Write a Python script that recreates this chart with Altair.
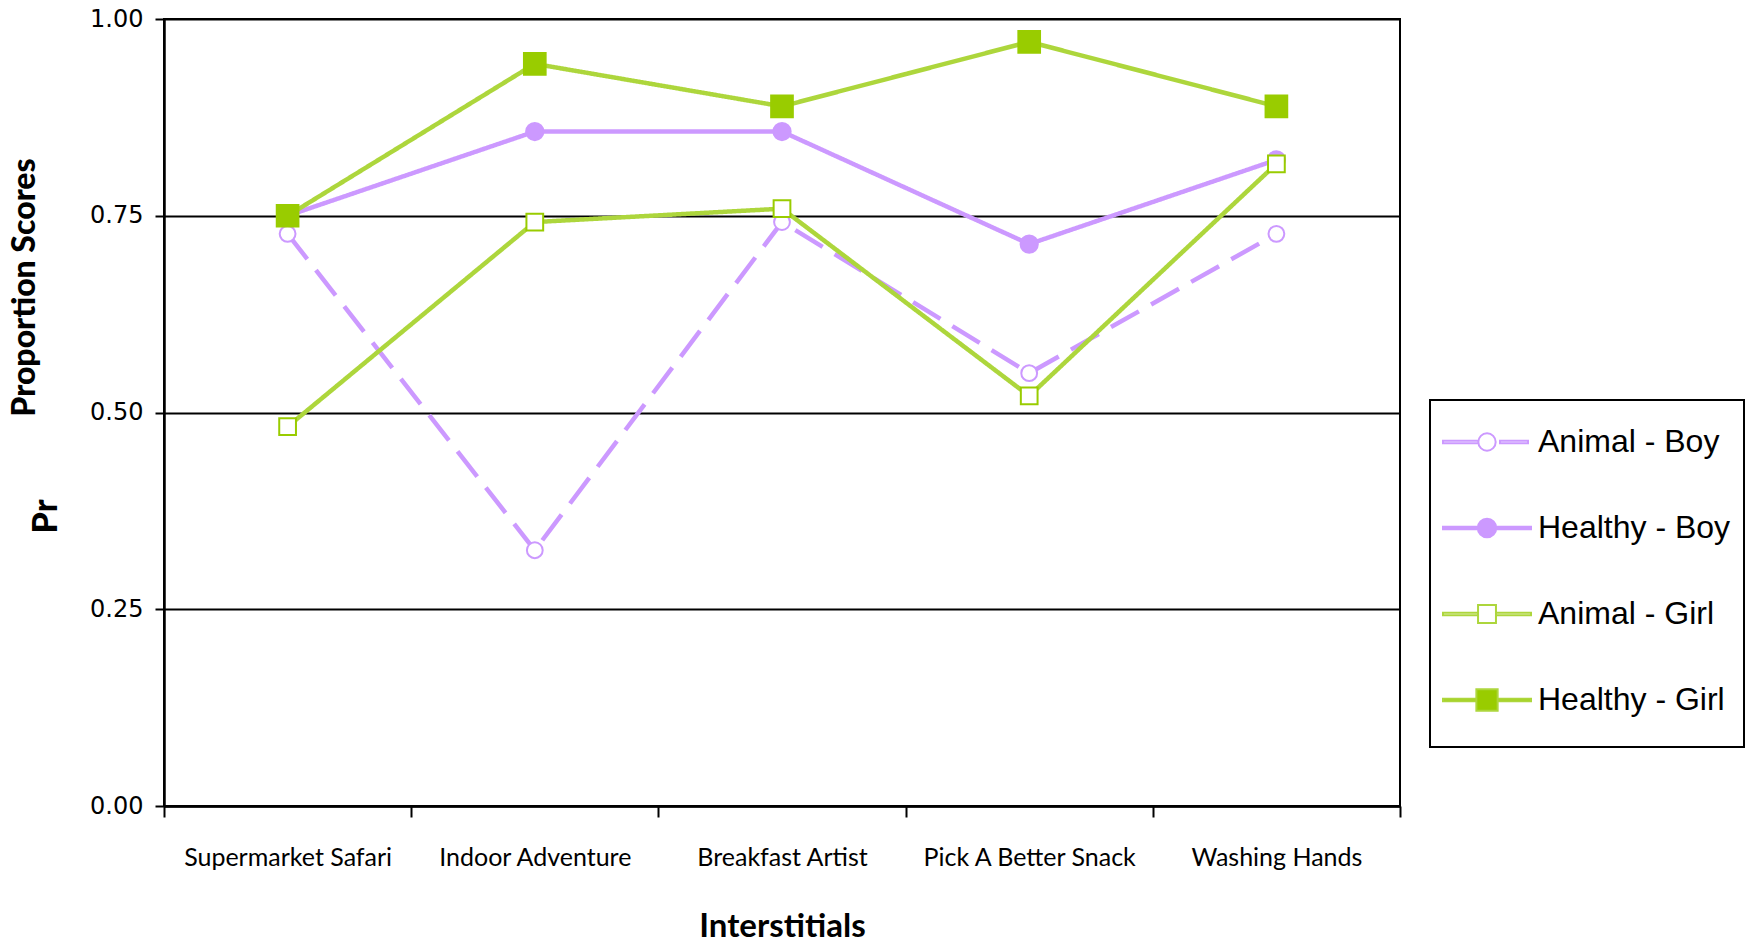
import altair as alt
import pandas as pd

# Interstitial segments (x categories) and the four series plotted over them
interstitials = [
    "Supermarket Safari",
    "Indoor Adventure",
    "Breakfast Artist",
    "Pick A Better Snack",
    "Washing Hands",
]
series_names = ["Animal - Boy", "Healthy - Boy", "Animal - Girl", "Healthy - Girl"]

animal_boy = [0.727, 0.325, 0.742, 0.550, 0.727]
healthy_boy = [0.750, 0.857, 0.857, 0.714, 0.821]
animal_girl = [0.482, 0.742, 0.759, 0.521, 0.816]
healthy_girl = [0.750, 0.943, 0.889, 0.971, 0.889]

y_ticks = [0.0, 0.25, 0.5, 0.75, 1.0]

rows = []
for name, values in zip(series_names, [animal_boy, healthy_boy, animal_girl, healthy_girl]):
    for cat, v in zip(interstitials, values):
        rows.append({"interstitial": cat, "series": name, "score": v})
df = pd.DataFrame(rows)

PURPLE = "#CC99FF"
GREEN_LINE = "#ADD63C"
GREEN = "#99CC00"

line_colors = [PURPLE, PURPLE, GREEN_LINE, GREEN_LINE]
marker_strokes = [PURPLE, PURPLE, GREEN, GREEN]
marker_fills = ["white", PURPLE, "white", GREEN]
marker_shapes = ["circle", "circle", "square", "square"]
marker_sizes = [250, 300, 280, 470]
dashes = [[32, 14], [1, 0], [1, 0], [1, 0]]


# Legend glyphs: a line with the series marker in the middle, as SVG paths.
# The trailing move-to reserves a little room under each glyph.
def seg(x1, x2, h=0.045):
    return f"M{x1},{-h}H{x2}V{h}H{x1}Z"


def circ(cx, r):
    return f"M{cx - r},0A{r},{r} 0 1,0 {cx + r},0A{r},{r} 0 1,0 {cx - r},0Z"


def sq(cx, a):
    return f"M{cx - a},{-a}H{cx + a}V{a}H{cx - a}Z"


L, M, R = -1.036, 0.536, 2.107
PAD = "M0,1.05"
legend_paths = [
    seg(L, M - 0.31) + seg(1.0, 2.0) + circ(M, 0.31) + PAD,
    seg(L, M - 0.33) + seg(M + 0.33, R) + circ(M, 0.33) + PAD,
    seg(L, M - 0.32) + seg(M + 0.32, R) + sq(M, 0.32) + PAD,
    seg(L, M - 0.38) + seg(M + 0.38, R) + sq(M, 0.38) + PAD,
]

x_enc = alt.X(
    "interstitial:N",
    sort=interstitials,
    scale=alt.Scale(type="band", domain=interstitials, paddingInner=0, paddingOuter=0),
    axis=alt.Axis(
        title="Interstitials",
        labelAngle=0,
        labelFont="Lato",
        labelFontSize=25,
        labelColor="black",
        labelPadding=28,
        labelLimit=600,
        tickBand="extent",
        tickSize=11,
        tickColor="black",
        tickWidth=2,
        domainColor="black",
        domainWidth=2.5,
        grid=False,
        titleFont="Lato",
        titleFontWeight="bold",
        titleFontSize=33,
        titleColor="black",
        titleY=120,
        titleBaseline="middle",
    ),
)

y_enc = alt.Y(
    "score:Q",
    scale=alt.Scale(domain=[0, 1], nice=False, zero=False),
    axis=alt.Axis(
        title="Proportion Scores",
        values=y_ticks,
        format=".2f",
        labelFont="DejaVu Sans",
        labelFontSize=24,
        labelColor="black",
        labelPadding=12,
        tickSize=9,
        tickColor="black",
        tickWidth=2,
        domainColor="black",
        domainWidth=2.5,
        grid=True,
        gridColor="black",
        gridWidth=2,
        gridOpacity=1,
        titleFont="Lato",
        titleFontWeight=900,
        titleFontSize=32,
        titleColor="black",
        titleAngle=270,
        titleX=-140,
        titleY=268,
        titleAlign="center",
        titleBaseline="middle",
    ),
)

lines = alt.Chart(df).mark_line(strokeWidth=4.5, strokeCap="butt").encode(
    x=x_enc,
    y=y_enc,
    stroke=alt.Stroke(
        "series:N",
        scale=alt.Scale(domain=series_names, range=line_colors),
        legend=None,
    ),
    strokeDash=alt.StrokeDash(
        "series:N",
        scale=alt.Scale(domain=series_names, range=dashes),
        legend=None,
    ),
)

points = alt.Chart(df).mark_point(strokeWidth=2, opacity=1).encode(
    x=x_enc,
    y=y_enc,
    shape=alt.Shape(
        "series:N",
        scale=alt.Scale(domain=series_names, range=marker_shapes),
        legend=None,
    ),
    fill=alt.Fill(
        "series:N",
        scale=alt.Scale(domain=series_names, range=marker_fills),
        legend=None,
    ),
    stroke=alt.Stroke(
        "series:N",
        scale=alt.Scale(domain=series_names, range=marker_strokes),
        legend=None,
    ),
    size=alt.Size(
        "series:N",
        scale=alt.Scale(type="ordinal", domain=series_names, range=marker_sizes),
        legend=None,
    ),
)

legend_spec = alt.Legend(
    title=None,
    orient="none",
    legendX=1266,
    legendY=381,
    padding=13,
    strokeColor="black",
    fillColor="white",
    symbolSize=3136,
    symbolStrokeWidth=2,
    symbolOpacity=1,
    labelFont="Liberation Sans",
    labelFontSize=32,
    labelColor="black",
    labelOffset=37,
    labelLimit=0,
    rowPadding=23,
)

legend_layer = alt.Chart(df).mark_point(opacity=0, strokeWidth=2).encode(
    x=x_enc,
    y=y_enc,
    shape=alt.Shape(
        "series:N",
        scale=alt.Scale(domain=series_names, range=legend_paths),
        legend=legend_spec,
    ),
    fill=alt.Fill(
        "series:N",
        scale=alt.Scale(domain=series_names, range=marker_fills),
        legend=legend_spec,
    ),
    stroke=alt.Stroke(
        "series:N",
        scale=alt.Scale(domain=series_names, range=line_colors),
        legend=legend_spec,
    ),
)

chart = (
    alt.layer(lines, points, legend_layer)
    .resolve_scale(shape="independent", fill="independent", stroke="independent", size="independent")
    .properties(
        width=1236,
        height=787,
        title=alt.TitleParams(
            text="Pr",
            orient="left",
            anchor="middle",
            font="Lato",
            fontWeight=900,
            fontSize=34,
            color="black",
            offset=-56,
            dx=-104,
        ),
        autosize=alt.AutoSizeParams(type="none"),
        padding={"left": 164, "top": 19, "right": 347, "bottom": 139},
    )
    .configure(background="white")
    .configure_view(stroke="black", strokeWidth=2)
    .configure_legend(strokeWidth=2)
)

chart.save("out.html", embed_options={"renderer": "svg", "actions": False})
